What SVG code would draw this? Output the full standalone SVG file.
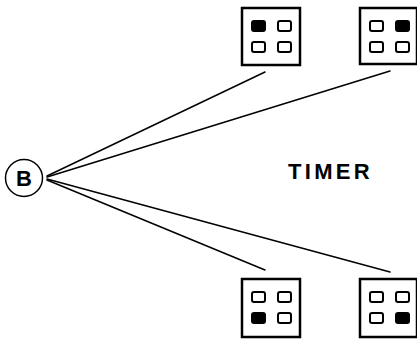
<svg xmlns="http://www.w3.org/2000/svg" width="417" height="343" viewBox="0 0 417 343">
<style>
.box{fill:#fff;stroke:#000;stroke-width:2.5}
.led{fill:#fff;stroke:#000;stroke-width:2}
.on{fill:#000;stroke:#000;stroke-width:2}
.conn{stroke:#000;stroke-width:1.5;fill:none;stroke-linecap:round}
</style>
<rect width="417" height="343" fill="#fff"/>
<g id="connectors">
<line class="conn" x1="47" y1="176" x2="265" y2="72"/>
<line class="conn" x1="47" y1="177" x2="390" y2="71"/>
<line class="conn" x1="47" y1="180" x2="265" y2="270"/>
<line class="conn" x1="47" y1="179" x2="390" y2="272"/>
</g>
<g id="node-b">
<circle cx="24" cy="178" r="18.5" fill="#fff" stroke="#000" stroke-width="1.5"/>
<text x="24" y="186" font-family="Liberation Sans, Arial, sans-serif" font-weight="bold" font-size="22" text-anchor="middle">B</text>
</g>
<g id="timer-label">
<text x="288" y="179" font-family="Liberation Sans, Arial, sans-serif" font-weight="bold" font-size="22" letter-spacing="3.3">TIMER</text>
</g>
<g id="timer-1">
<rect class="box" x="242" y="8" width="58" height="57"/>
<rect class="on" x="252" y="21" width="13" height="10" rx="2"/>
<rect class="led" x="278" y="21" width="13" height="10" rx="2"/>
<rect class="led" x="252" y="42" width="13" height="10" rx="2"/>
<rect class="led" x="278" y="42" width="13" height="10" rx="2"/>
</g>
<g id="timer-2">
<rect class="box" x="360" y="8" width="57" height="56"/>
<rect class="led" x="370" y="21" width="13" height="10" rx="2"/>
<rect class="on" x="396" y="21" width="13" height="10" rx="2"/>
<rect class="led" x="370" y="42" width="13" height="10" rx="2"/>
<rect class="led" x="396" y="42" width="13" height="10" rx="2"/>
</g>
<g id="timer-3">
<rect class="box" x="242" y="279" width="58" height="58"/>
<rect class="led" x="252" y="292" width="13" height="10" rx="2"/>
<rect class="led" x="278" y="292" width="13" height="10" rx="2"/>
<rect class="on" x="252" y="313" width="13" height="10" rx="2"/>
<rect class="led" x="278" y="313" width="13" height="10" rx="2"/>
</g>
<g id="timer-4">
<rect class="box" x="360" y="279" width="57" height="58"/>
<rect class="led" x="370" y="292" width="13" height="10" rx="2"/>
<rect class="led" x="396" y="292" width="13" height="10" rx="2"/>
<rect class="led" x="370" y="313" width="13" height="10" rx="2"/>
<rect class="on" x="396" y="313" width="13" height="10" rx="2"/>
</g>
</svg>
